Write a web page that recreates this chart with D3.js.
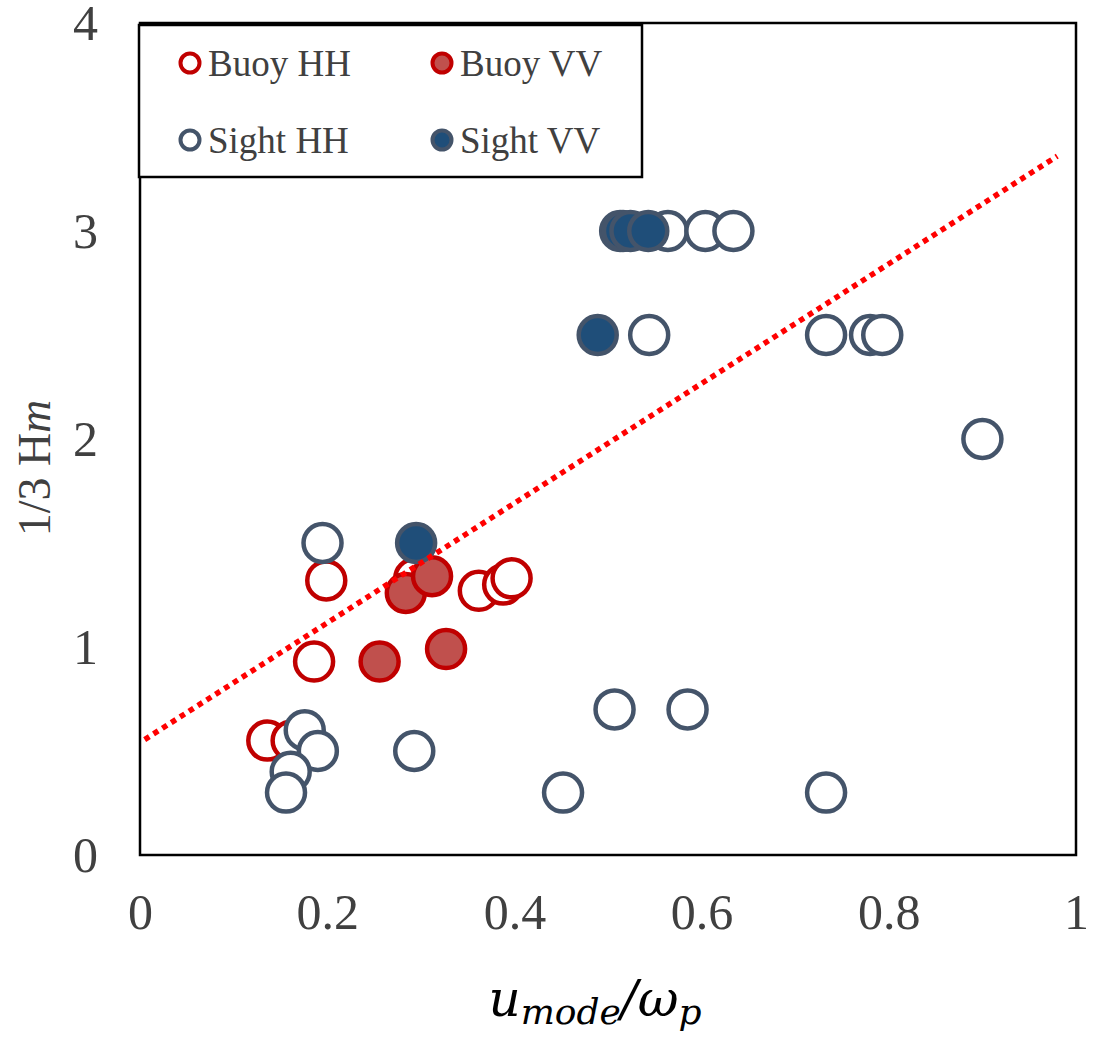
<!DOCTYPE html>
<html>
<head>
<meta charset="utf-8">
<script src="https://cdn.jsdelivr.net/npm/d3@7"></script>
<style>
  body { margin: 0; background: #fff; }
  svg { display: block; }
</style>
</head>
<body>
<svg id="chart" width="1093" height="1039"></svg>
<script>
// Data
const buoyHHx = [0.136, 0.162, 0.186, 0.199, 0.293, 0.362, 0.388, 0.397];
const buoyHHy = [0.55, 0.55, 0.93, 1.32, 1.33, 1.27, 1.30, 1.33];

const buoyVVx = [0.284, 0.312, 0.256, 0.327];
const buoyVVy = [1.26, 1.34, 0.93, 0.99];

const sightHHx = [0.195, 0.176, 0.190, 0.161, 0.156, 0.293, 0.452, 0.507, 0.585, 0.733,
                  0.900, 0.733, 0.780, 0.793, 0.544, 0.513, 0.564, 0.604, 0.634];
const sightHHy = [1.5, 0.6, 0.5, 0.4, 0.3, 0.5, 0.3, 0.7, 0.7, 0.3,
                  2.0, 2.5, 2.5, 2.5, 2.5, 3.0, 3.0, 3.0, 3.0];

const sightVVx = [0.489, 0.295, 0.516, 0.524, 0.543];
const sightVVy = [2.5, 1.5, 3.0, 3.0, 3.0];

// linear trend line end points
const trendX = [0.005, 0.98];
const trendY = [0.555, 3.36];

const xTicks = [0, 0.2, 0.4, 0.6, 0.8, 1];
const yTicks = [0, 1, 2, 3, 4];

const series = [
  { name: "Buoy HH", xs: buoyHHx, ys: buoyHHy, stroke: "#c00000", fill: "#ffffff" },
  { name: "Buoy VV", xs: buoyVVx, ys: buoyVVy, stroke: "#c00000", fill: "#c0504d" },
  { name: "Sight HH", xs: sightHHx, ys: sightHHy, stroke: "#44546a", fill: "#ffffff" },
  { name: "Sight VV", xs: sightVVx, ys: sightVVy, stroke: "#44546a", fill: "#1f4e79" }
];

const plotL = 140, plotR = 1076, plotT = 23, plotB = 855;
const svg = d3.select("#chart");

const x = d3.scaleLinear().domain([0, 1]).range([plotL, plotR]);
const y = d3.scaleLinear().domain([0, 4]).range([plotB, plotT]);

const tickFont = "'Liberation Serif', 'Times New Roman', serif";

// X axis
svg.append("g")
  .attr("transform", "translate(0," + plotB + ")")
  .call(d3.axisBottom(x).tickValues(xTicks).tickSize(0).tickPadding(38)
    .tickFormat(d => String(d)))
  .call(g => g.select(".domain").remove())
  .selectAll("text")
    .attr("font-family", tickFont)
    .attr("font-size", 50)
    .attr("fill", "#404040");

// Y axis
svg.append("g")
  .attr("transform", "translate(" + plotL + ",0)")
  .call(d3.axisLeft(y).tickValues(yTicks).tickSize(0).tickPadding(42)
    .tickFormat(d => String(d)))
  .call(g => g.select(".domain").remove())
  .selectAll("text")
    .attr("font-family", tickFont)
    .attr("font-size", 50)
    .attr("fill", "#404040");

// Plot frame
svg.append("rect")
  .attr("x", plotL).attr("y", plotT)
  .attr("width", plotR - plotL).attr("height", plotB - plotT)
  .attr("fill", "none")
  .attr("stroke", "#000")
  .attr("stroke-width", 2.5);

// Points
series.forEach(s => {
  svg.append("g")
    .selectAll("circle")
    .data(s.xs.map((v, i) => [v, s.ys[i]]))
    .enter()
    .append("circle")
    .attr("cx", d => x(d[0]))
    .attr("cy", d => y(d[1]))
    .attr("r", 19)
    .attr("fill", s.fill)
    .attr("stroke", s.stroke)
    .attr("stroke-width", 4.5);
});

// Trend line
svg.append("path")
  .datum(trendX.map((v, i) => [v, trendY[i]]))
  .attr("d", d3.line().x(d => x(d[0])).y(d => y(d[1])))
  .attr("fill", "none")
  .attr("stroke", "#ff0000")
  .attr("stroke-width", 5.5)
  .attr("stroke-dasharray", "5.5,5");

// Legend
const legend = svg.append("g");
legend.append("rect")
  .attr("x", 139).attr("y", 25)
  .attr("width", 503).attr("height", 152)
  .attr("fill", "#fff")
  .attr("stroke", "#000")
  .attr("stroke-width", 2.5);

const legPos = [[190, 63], [442, 63], [190, 140], [442, 140]];
series.forEach((s, i) => {
  const [lx, ly] = legPos[i];
  legend.append("circle")
    .attr("cx", lx).attr("cy", ly).attr("r", 9.5)
    .attr("fill", s.fill)
    .attr("stroke", s.stroke)
    .attr("stroke-width", 4);
  legend.append("text")
    .attr("x", lx + 18).attr("y", ly + 13)
    .attr("font-family", tickFont)
    .attr("font-size", 37)
    .attr("fill", "#404040")
    .text(s.name);
});

// Y axis title
const yTitle = svg.append("text")
  .attr("transform", "translate(50,468) rotate(-90)")
  .attr("text-anchor", "middle")
  .attr("font-family", tickFont)
  .attr("font-size", 46)
  .attr("fill", "#404040");
yTitle.append("tspan").text("1/3 H");
yTitle.append("tspan").attr("font-style", "italic").text("m");

// X axis title
const mathFont = "'DejaVu Serif', serif";
const xTitle = svg.append("text")
  .attr("x", 595).attr("y", 1016)
  .attr("text-anchor", "middle")
  .attr("font-family", mathFont)
  .attr("font-style", "italic")
  .attr("font-size", 50)
  .attr("fill", "#000");
xTitle.append("tspan").text("u");
xTitle.append("tspan").attr("font-size", 36).attr("dy", 8).text("mode");
xTitle.append("tspan").attr("dy", -8).text("/ω");
xTitle.append("tspan").attr("font-size", 36).attr("dy", 8).text("p");
</script>
</body>
</html>
